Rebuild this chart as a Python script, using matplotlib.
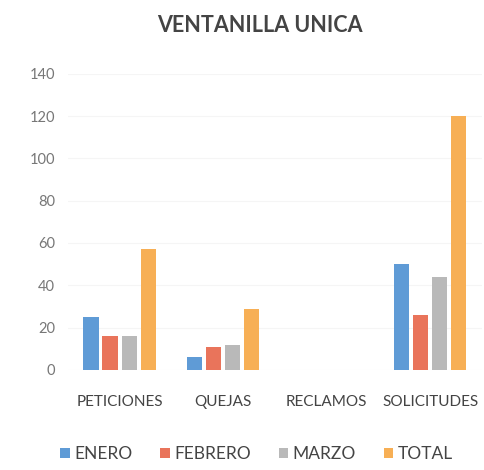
import numpy as np
import matplotlib
matplotlib.use("Agg")
import matplotlib.pyplot as plt

categories = ["PETICIONES", "QUEJAS", "RECLAMOS", "SOLICITUDES"]
series_names = ["ENERO", "FEBRERO", "MARZO", "TOTAL"]
enero = [25, 6, 0, 50]
febrero = [16, 11, 0, 26]
marzo = [16, 12, 0, 44]
total = [57, 29, 0, 120]
y_ticks = [0, 20, 40, 60, 80, 100, 120, 140]

colors = ["#5F9BD6", "#E9745B", "#B9B9B9", "#F7AF55"]

plt.rcParams["font.family"] = ["Lato", "DejaVu Sans"]

fig = plt.figure(figsize=(4.84, 4.70), dpi=100)
ax = fig.add_axes([0.14, 0.213, 0.856, 0.63])

x = np.arange(len(categories))
pitch = 0.184
width = 0.146
for i, (name, vals) in enumerate(zip(series_names, [enero, febrero, marzo, total])):
    ax.bar(x + (i - 1.5) * pitch, vals, width=width, color=colors[i], label=name, zorder=3)

ax.set_xlim(-0.5, 3.5)
ax.set_ylim(0, 140)
ax.set_yticks(y_ticks)
ax.set_yticklabels([str(v) for v in y_ticks], fontsize=10.5, color="#777777")
ax.set_xticks(x)
ax.set_xticklabels(categories, fontsize=11, color="#444444")
ax.tick_params(length=0, pad=9, axis="y")
ax.tick_params(length=0, pad=18, axis="x")
ax.grid(axis="y", color="#f5f5f5", linewidth=0.8, zorder=0)
for s in ax.spines.values():
    s.set_visible(False)

fig.suptitle("VENTANILLA UNICA", x=0.536, y=0.968, fontsize=15.5, fontweight="bold", color="#444444")
fig.legend(loc="center", bbox_to_anchor=(0.53, 0.034), ncol=4, frameon=False,
           fontsize=12.5, handlelength=0.55, handleheight=0.55, handletextpad=0.25,
           columnspacing=1.6, labelcolor="#444444")

fig.savefig("out.png", dpi=100)
